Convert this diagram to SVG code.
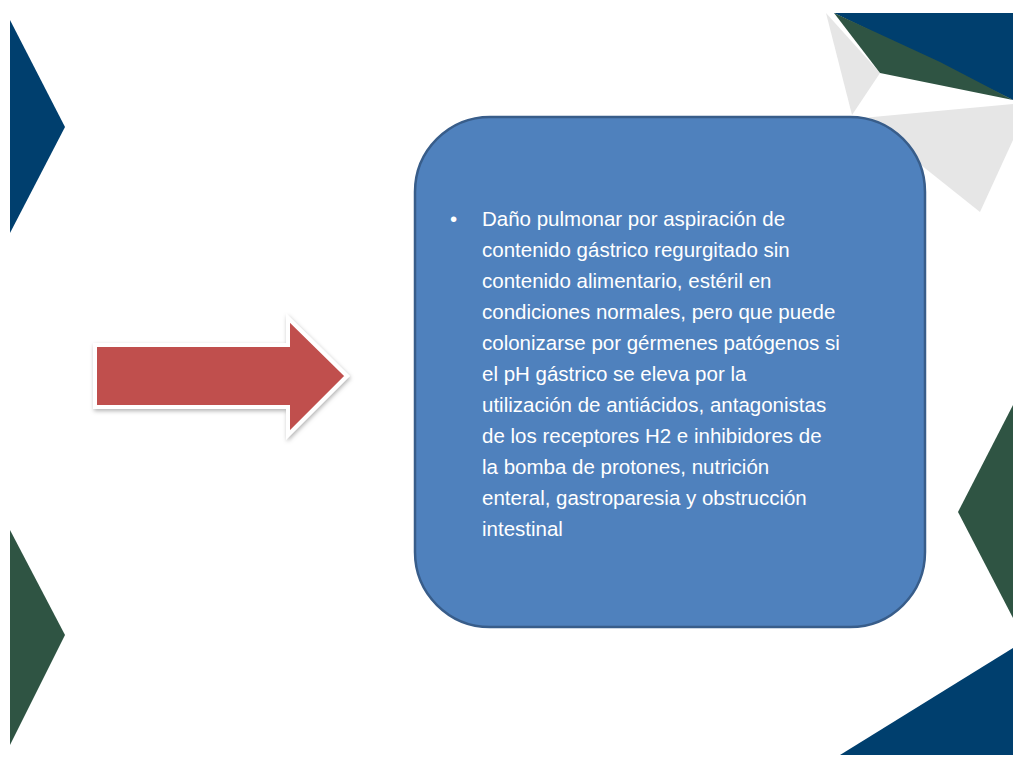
<svg xmlns="http://www.w3.org/2000/svg" width="1024" height="768" viewBox="0 0 1024 768">
<defs>
<style>
.t{font-family:"Liberation Sans",Arial,sans-serif;font-size:20.5px;fill:#fff}
.blue{fill:#003f6e}.green{fill:#2f5443}.gray{fill:#e6e6e6}
</style>
<filter id="sh" x="-10%" y="-10%" width="120%" height="130%"><feDropShadow dx="1" dy="2" stdDeviation="2" flood-color="#000" flood-opacity="0.3"/></filter>
</defs>
<rect width="1024" height="768" fill="#fff"/>
<g id="deco">
<polygon class="blue" points="10,20 65,127 10,233"/>
<polygon class="green" points="10,530 65,635 10,745"/>
<polygon class="green" points="1013,405 958,512 1013,618"/>
<polygon class="blue" points="1013,648 1013,755 840,755"/>
<polygon class="gray" points="826,13 852,115 880,73"/>
<polygon class="gray" points="862,118 1013,104 1013,140 980,212"/>
<polygon class="blue" points="834,13 1013,13 1013,100"/>
<polygon class="green" points="834,13 880,73 1013,100 940,62"/>
</g>
<g id="arrow">
<polygon points="95,345 288,345 288,318 347,376 288,435 288,407 95,407" fill="#c0504d" stroke="#fff" stroke-width="4" stroke-linejoin="miter" filter="url(#sh)"/>
</g>
<g id="box">
<rect x="415" y="117" width="510" height="510" rx="75" fill="#4f81bd" stroke="#385d8a" stroke-width="2.5"/>
<text class="t"><tspan x="450" y="226">•</tspan></text>
<text class="t">
<tspan x="482" y="226">Daño pulmonar  por aspiración de</tspan>
<tspan x="482" y="257">contenido gástrico regurgitado sin</tspan>
<tspan x="482" y="288">contenido alimentario, estéril en</tspan>
<tspan x="482" y="319">condiciones normales, pero que puede</tspan>
<tspan x="482" y="350">colonizarse por gérmenes patógenos si</tspan>
<tspan x="482" y="381">el pH gástrico se eleva por la</tspan>
<tspan x="482" y="412">utilización de antiácidos, antagonistas</tspan>
<tspan x="482" y="443">de los receptores H2  e inhibidores de</tspan>
<tspan x="482" y="474">la bomba de protones, nutrición</tspan>
<tspan x="482" y="505">enteral, gastroparesia y obstrucción</tspan>
<tspan x="482" y="536">intestinal</tspan>
</text>
</g>
</svg>
